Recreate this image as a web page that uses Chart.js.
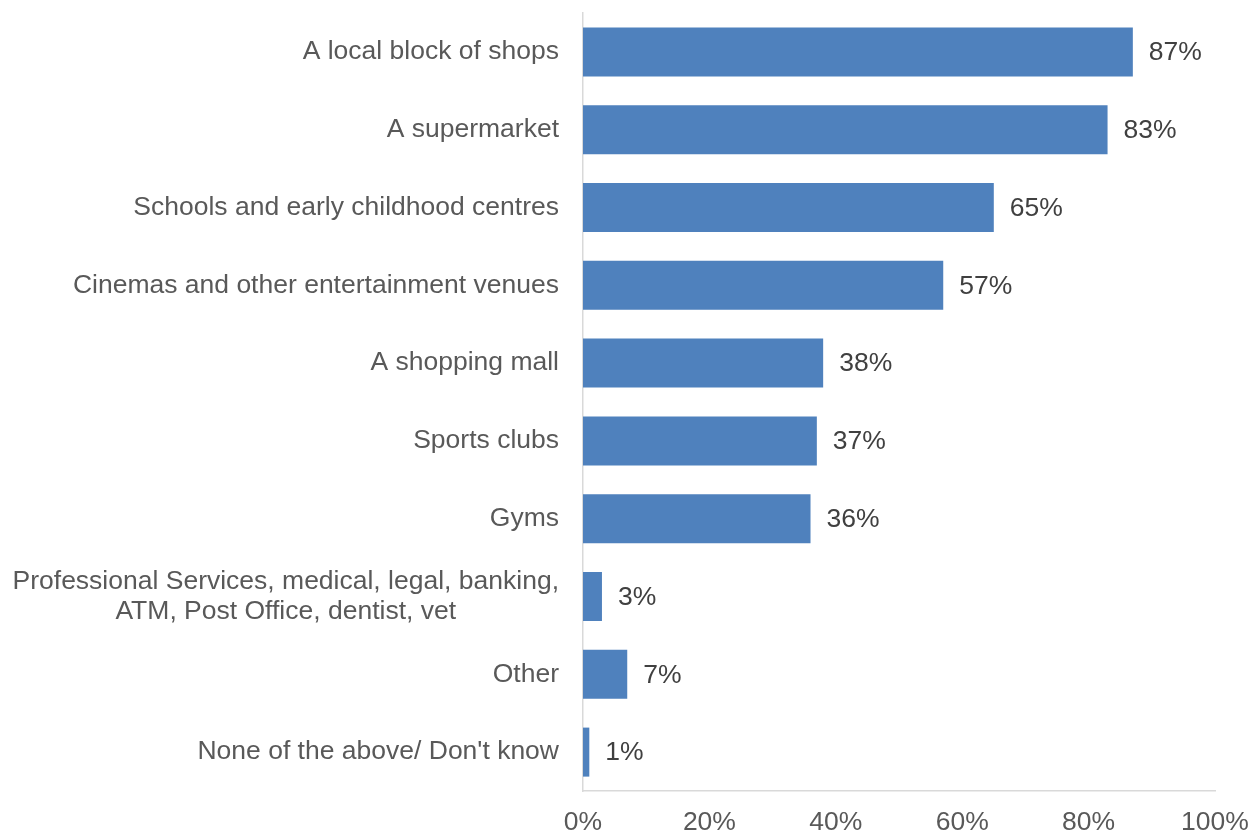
<!DOCTYPE html>
<html>
<head>
<meta charset="utf-8">
<script src="https://cdn.jsdelivr.net/npm/chart.js@4"></script>
<style>
  html, body { margin: 0; padding: 0; background: #fff; }
  #wrap { width: 1250px; height: 832px; }
</style>
</head>
<body>
<div id="wrap"><canvas id="barChart"></canvas></div>
<script>
const categories = [
    'A local block of shops',
    'A supermarket',
    'Schools and early childhood centres',
    'Cinemas and other entertainment venues',
    'A shopping mall',
    'Sports clubs',
    'Gyms',
    ['Professional Services, medical, legal, banking,', 'ATM, Post Office, dentist, vet'],
    'Other',
    "None of the above/ Don't know"
];
const shares = [87, 83, 65, 57, 38, 37, 36, 3, 7, 1];
const xTicks = [0, 20, 40, 60, 80, 100];

const FONT = '"Liberation Sans", Arial, sans-serif';
const FONT_SIZE = 26.5;
const LABEL_GAP = 24;
const LINE_STEP = 30;

// value labels to the right of each bar
const barValueLabels = {
    id: 'barValueLabels',
    afterDatasetsDraw(chart) {
        const ctx = chart.ctx;
        const meta = chart.getDatasetMeta(0);
        ctx.save();
        ctx.font = FONT_SIZE + 'px ' + FONT;
        ctx.fillStyle = '#404040';
        ctx.textAlign = 'left';
        ctx.textBaseline = 'middle';
        meta.data.forEach((bar, i) => {
            ctx.fillText(shares[i] + '%', bar.x + 16, bar.y + 1);
        });
        ctx.restore();
    }
};

// wrapped category names: lines centred on each other, block right-aligned
const wrappedLabels = {
    id: 'wrappedLabels',
    afterDraw(chart) {
        const ctx = chart.ctx;
        const yScale = chart.scales.y;
        const right = yScale.right - LABEL_GAP;
        ctx.save();
        ctx.font = FONT_SIZE + 'px ' + FONT;
        ctx.fillStyle = '#595959';
        ctx.textAlign = 'center';
        ctx.textBaseline = 'middle';
        categories.forEach((cat, i) => {
            if (!Array.isArray(cat)) return;
            const widest = Math.max(...cat.map(line => ctx.measureText(line).width));
            const cx = right - widest / 2;
            const cy = yScale.getPixelForTick(i);
            const first = cy - (cat.length - 1) * LINE_STEP / 2;
            cat.forEach((line, k) => ctx.fillText(line, cx, first + k * LINE_STEP));
        });
        ctx.restore();
    }
};

// keep the plot area fixed, no extra room for edge tick labels
function noEdgePadding(axis) {
    axis.paddingTop = 0;
    axis.paddingBottom = 0;
    axis.paddingLeft = 0;
    axis.paddingRight = 0;
}

const ctx = document.getElementById('barChart').getContext('2d');
new Chart(ctx, {
    type: 'bar',
    data: {
        labels: categories,
        datasets: [{
            data: shares,
            backgroundColor: '#4f81bd',
            barPercentage: 0.63,
            categoryPercentage: 1.0
        }]
    },
    options: {
        indexAxis: 'y',
        responsive: true,
        maintainAspectRatio: false,
        animation: false,
        layout: { padding: { top: 13, right: 35, left: 0, bottom: 0 } },
        plugins: {
            legend: { display: false },
            tooltip: { enabled: false }
        },
        scales: {
            x: {
                min: 0,
                max: 100,
                afterBuildTicks: axis => {
                    axis.ticks = xTicks.map(v => ({ value: v }));
                },
                afterFit: axis => {
                    axis.height = 41;
                    noEdgePadding(axis);
                },
                grid: { display: false, drawTicks: false },
                border: { display: true, color: '#d9d9d9', width: 1.5 },
                ticks: {
                    padding: 16,
                    color: '#595959',
                    font: { family: FONT, size: FONT_SIZE },
                    callback: v => v + '%'
                }
            },
            y: {
                afterFit: axis => {
                    axis.width = 583;
                    noEdgePadding(axis);
                },
                grid: { display: false, drawTicks: false },
                border: { display: true, color: '#d9d9d9', width: 1.5 },
                ticks: {
                    padding: LABEL_GAP,
                    color: '#595959',
                    font: { family: FONT, size: FONT_SIZE },
                    // wrapped names are drawn by the wrappedLabels plugin
                    callback: (v, i) => Array.isArray(categories[i]) ? '' : categories[i]
                }
            }
        }
    },
    plugins: [barValueLabels, wrappedLabels]
});
</script>
</body>
</html>
